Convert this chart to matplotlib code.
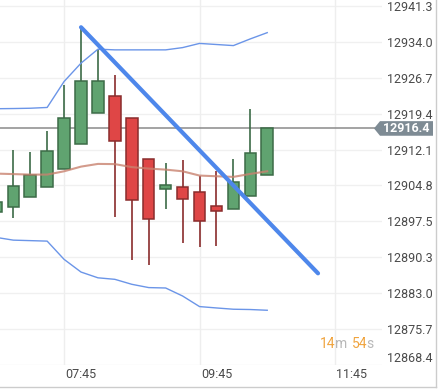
import matplotlib.pyplot as plt
from matplotlib.patches import Polygon
from matplotlib.lines import Line2D

plt.rcParams['font.family'] = ['Roboto', 'DejaVu Sans']

# candle index -1 .. 15 (15 min bars)
idx = list(range(-1, 16))
opens = [12899.45, 12900.39, 12902.42, 12904.53, 12908.18, 12913.25, 12919.54, 12922.98,
         12918.52, 12910.2, 12904.12, 12904.53, 12903.51, 12900.73, 12900.06, 12902.7, 12906.88]
closes = [12901.54, 12904.79, 12906.96, 12911.83, 12918.52, 12926.03, 12926.03, 12913.86,
          12901.89, 12898.03, 12904.93, 12902.09, 12897.63, 12899.66, 12905.54, 12911.42, 12916.4]
highs = [12901.54, 12912.09, 12911.54, 12915.95, 12925.28, 12936.98, 12932.52, 12927.3,
         12918.52, 12910.2, 12909.39, 12910.06, 12906.82, 12907.69, 12910.27, 12920.41, 12916.4]
lows = [12899.45, 12898.16, 12902.42, 12904.53, 12908.18, 12913.25, 12919.54, 12898.36,
        12889.64, 12888.62, 12899.98, 12893.17, 12892.27, 12892.48, 12900.06, 12902.7, 12906.88]
ma = [12907.22, 12907.12, 12907.02, 12907.02, 12907.69, 12908.64, 12909.19, 12909.15, 12908.54,
      12908.24, 12908.03, 12907.69, 12906.82, 12906.68, 12906.55, 12907.16, 12907.69]
bb_up = [12920.41, 12920.45, 12920.51, 12920.67, 12925.95, 12929.68, 12932.52, 12932.38, 12932.38,
         12932.38, 12932.38, 12932.84, 12933.69, 12933.47, 12933.25, 12934.61, 12935.88]
bb_lo = [12894.24, 12893.69, 12893.59, 12893.49, 12889.78, 12887.2, 12886.03, 12885.72, 12884.71,
         12884.04, 12883.96, 12882.33, 12880.18, 12879.9, 12879.64, 12879.58, 12879.43]

trend_x = [4, 18]
trend_y = [12936.98, 12886.94]

yticks = [12941.3, 12934.0, 12926.7, 12919.4, 12912.1, 12904.8, 12897.5, 12890.3, 12883.0, 12875.7, 12868.4]
xgrid = [3, 11, 19]
xticks = [4, 12, 20]
xlabels = ["07:45", "09:45", "11:45"]
last_price = 12916.4
countdown = ["14", "m", "54", "s"]

W, H = 448, 392
fig = plt.figure(figsize=(W / 100, H / 100), dpi=100)
ax = fig.add_axes([0, (H - 365) / H, 382 / W, 365 / H])
ax.set_xlim(-0.786, 21.78)
ax.set_ylim(12868.3, 12942.52)

for s in ax.spines.values():
    s.set_visible(False)

for y in yticks:
    ax.axhline(y, color='#f0f0f0', lw=1, zorder=0)
for x in xgrid:
    ax.axvline(x, color='#eeeeee', lw=1, zorder=0)

# candles
for i, o, c, h, l in zip(idx, opens, closes, highs, lows):
    up = c >= o
    body = '#60a370' if up else '#df4646'
    edge = '#3c6b47' if up else '#8a2c2c'
    ax.vlines(i, l, h, color=edge, lw=1.2, zorder=2)
    ax.bar(i, abs(c - o), bottom=min(o, c), width=0.68, color=body,
           edgecolor=edge, lw=1.1, zorder=3)

ax.plot(idx, ma, color='#c9826f', lw=1.5, alpha=0.8, zorder=4)
ax.plot(idx, bb_up, color='#6b95e8', lw=1.0, zorder=4)
ax.plot(idx, bb_lo, color='#6b95e8', lw=1.0, zorder=4)
ax.plot(trend_x, trend_y, color='#4e87eb', lw=3.0, solid_capstyle='round', zorder=5)

# last price line
ax.axhline(last_price, color='#8a8a8a', lw=1.1, zorder=1)

ax.yaxis.tick_right()
ax.set_yticks(yticks)
ax.set_yticklabels([f"{v:.1f}" for v in yticks])
ax.tick_params(axis='y', length=0, pad=3.4, labelsize=9, labelcolor='#4a4a4a')
ax.set_xticks(xticks)
ax.set_xticklabels(xlabels)
ax.tick_params(axis='x', length=0, pad=2.0, labelsize=9, labelcolor='#4a4a4a')
ax.get_yticklabels()[-1].set_va('bottom')

# price tag
fig.canvas.draw()
py = ax.transData.transform((0, last_price))[1]
pts = [(374, py), (380, py + 7.3), (433, py + 7.3), (433, py - 7.3), (380, py - 7.3)]
tag = Polygon(pts, closed=True, transform=None, facecolor='#7e8b94', edgecolor='none', zorder=10)
fig.add_artist(tag)
fig.text(406.5 / W, py / H, f"{last_price:.1f}", color='white', fontsize=9,
         fontweight='bold', ha='center', va='center', zorder=11)

# countdown "14m 54s"
for part, px, col in zip(countdown, [320, 334.5, 351.5, 366.5], ['#f0a43f', '#b8b8b8', '#f0a43f', '#b8b8b8']):
    fig.text(px / W, 1 - 344 / H, part, color=col, fontsize=10, va='center', ha='left')

# frame
fig.add_artist(Line2D([436 / W, 436 / W], [1 - 387 / H, 1], transform=fig.transFigure, color='#cccccc', lw=1))
fig.add_artist(Line2D([0, 436 / W], [1 - 387 / H, 1 - 387 / H], transform=fig.transFigure, color='#cccccc', lw=1))

fig.savefig("out.png", dpi=100)
